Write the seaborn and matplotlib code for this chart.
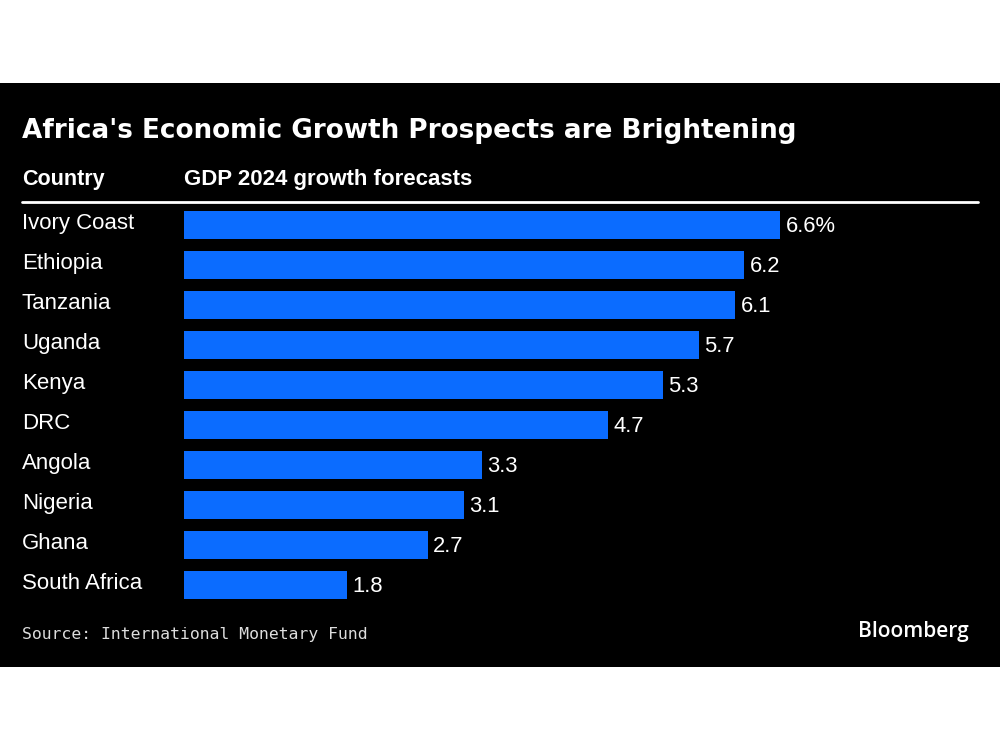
import matplotlib
matplotlib.use("Agg")
import matplotlib.pyplot as plt
from matplotlib.patches import Rectangle
from matplotlib.lines import Line2D
import seaborn as sns
import pandas as pd

# Data
countries = ["Ivory Coast", "Ethiopia", "Tanzania", "Uganda", "Kenya",
             "DRC", "Angola", "Nigeria", "Ghana", "South Africa"]
growth = [6.6, 6.2, 6.1, 5.7, 5.3, 4.7, 3.3, 3.1, 2.7, 1.8]
value_labels = ["6.6%", "6.2", "6.1", "5.7", "5.3", "4.7", "3.3", "3.1", "2.7", "1.8"]

df = pd.DataFrame({"country": countries, "growth": growth})

sns.set_theme(style="white")
plt.rcParams["font.family"] = ["Liberation Sans", "DejaVu Sans"]

BLUE = "#0b6cff"
W, H = 1000, 750

fig = plt.figure(figsize=(10, 7.5), dpi=100, facecolor="white")

# black panel between the white bands
fig.patches.append(Rectangle((0, 1 - 667 / H), 1, (667 - 83) / H,
                             transform=fig.transFigure, facecolor="black",
                             edgecolor="none", zorder=-5))

ax = fig.add_axes([184 / W, 1 - 605 / H, (978 - 184) / W, 400 / H])
ax.set_facecolor("none")
ax.set_zorder(2)

sns.barplot(data=df, x="growth", y="country", color=BLUE, saturation=1,
            width=0.68, ax=ax, orient="h", linewidth=0, edgecolor="none")

ax.set_xlim(0, 794 / 90.3)
ax.set_ylim(9.5, -0.5)
ax.set_xticks([])
ax.set_yticks([])
ax.set_xlabel("")
ax.set_ylabel("")
for s in ax.spines.values():
    s.set_visible(False)

# value labels at bar ends
for i, (v, lab) in enumerate(zip(growth, value_labels)):
    ax.annotate(lab, (v, i), xytext=(4, -1), textcoords="offset points",
                va="center", ha="left", color="white", fontsize=15.8,
                annotation_clip=False)

# country labels on the left
for i, c in enumerate(countries):
    ax.annotate(c, (22 / W, i), xycoords=("figure fraction", "data"),
                xytext=(0, 1), textcoords="offset points",
                va="center", ha="left", color="white", fontsize=16,
                annotation_clip=False)

# title and column headers
fig.text(22 / W, 1 - 131 / H, "Africa's Economic Growth Prospects are Brightening",
         family="DejaVu Sans", fontweight="bold", fontsize=18.9, color="white",
         va="center", ha="left")
fig.text(22 / W, 1 - 180 / H, "Country", fontweight="bold", fontsize=15.5,
         color="white", va="center", ha="left")
fig.text(184 / W, 1 - 180 / H, "GDP 2024 growth forecasts", fontweight="bold",
         fontsize=16, color="white", va="center", ha="left")
fig.lines.append(Line2D([22 / W, 978 / W], [1 - 202 / H, 1 - 202 / H],
                        transform=fig.transFigure, color="white", linewidth=2))

# footer
fig.text(22 / W, 1 - 634 / H, "Source: International Monetary Fund",
         family="DejaVu Sans Mono", fontsize=11.8, color="#dddddd",
         va="center", ha="left")
fig.text(969 / W, 1 - 632 / H, "Bloomberg", family="Open Sans",
         fontweight="semibold", fontsize=15, color="white",
         va="center", ha="right")

fig.savefig("out.png", dpi=100, facecolor="white")
